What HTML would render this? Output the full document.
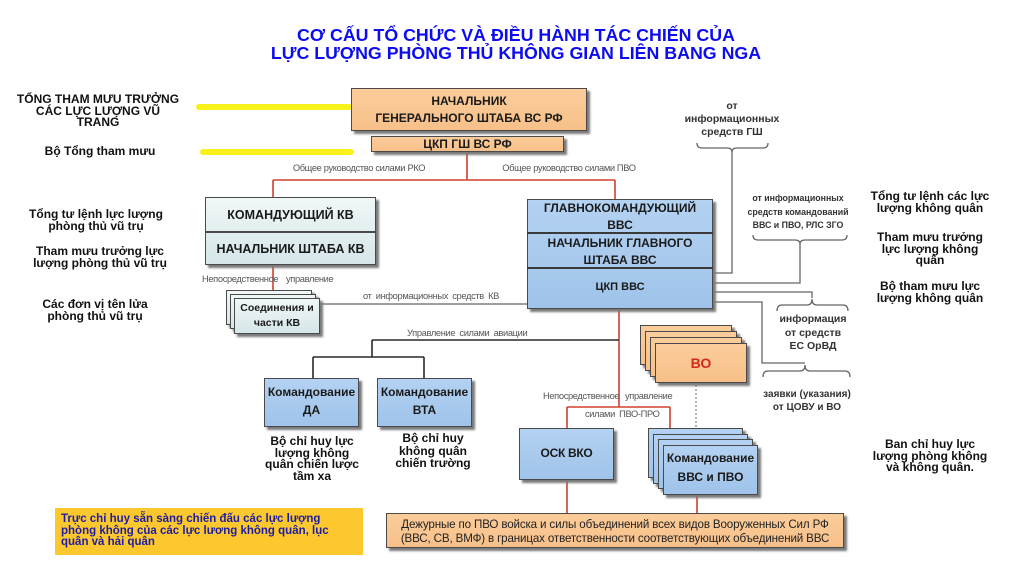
<!DOCTYPE html>
<html><head><meta charset="utf-8">
<style>
html,body{margin:0;padding:0;background:#fff;}
#c{position:relative;width:1010px;height:576px;overflow:hidden;background:#fff;font-family:"Liberation Sans","Noto Sans CJK SC",sans-serif;}
.t{position:absolute;white-space:nowrap;text-align:center;}
.vn{font-weight:bold;font-size:12px;line-height:11.7px;color:#111;}
.box{position:absolute;box-sizing:border-box;border:1.5px solid #4a4a4a;box-shadow:3px 3px 2px #7a7a7a;}
.peach{background:linear-gradient(#fbcd9a,#f7c08a);}
.blue{background:linear-gradient(#b4d2f2,#9fc3ea);}
.kv{background:linear-gradient(#f0f7f7,#d6e6e9);}
.bt{font-weight:bold;color:#1a1a1a;}
.sm{font-size:9.3px;color:#555;letter-spacing:-0.35px;}
.ru{font-weight:bold;color:#333;}
</style></head><body>
<div id="c">

<!-- Title -->
<div class="t" style="left:0;width:1032px;top:26px;font-size:17.8px;line-height:18px;font-weight:bold;color:#0c0cee;">CƠ CẤU TỔ CHỨC VÀ ĐIỀU HÀNH TÁC CHIẾN CỦA<br>LỰC LƯỢNG PHÒNG THỦ KHÔNG GIAN LIÊN BANG NGA</div>

<!-- yellow lines -->
<div style="position:absolute;left:196px;top:104px;width:156px;height:6px;background:#f8f21a;border-radius:3px;"></div>
<div style="position:absolute;left:200px;top:149px;width:154px;height:6px;background:#f8f21a;border-radius:3px;"></div>

<!-- left column -->
<div class="t vn" style="left:0;width:196px;top:94px;">TỔNG THAM MƯU TRƯỞNG<br>CÁC LỰC LƯỢNG VŨ<br>TRANG</div>
<div class="t vn" style="left:0;width:200px;top:146px;">Bộ Tổng tham mưu</div>
<div class="t vn" style="left:0;width:192px;top:209px;">Tổng tư lệnh lực lượng<br>phòng thủ vũ trụ</div>
<div class="t vn" style="left:0;width:200px;top:246px;">Tham mưu trưởng lực<br>lượng phòng thủ vũ trụ</div>
<div class="t vn" style="left:0;width:190px;top:299px;">Các đơn vị tên lửa<br>phòng thủ vũ trụ</div>

<!-- right column -->
<div class="t vn" style="left:850px;width:160px;top:191px;">Tổng tư lệnh các lực<br>lượng không quân</div>
<div class="t vn" style="left:850px;width:160px;top:232px;">Tham mưu trưởng<br>lực lượng không<br>quân</div>
<div class="t vn" style="left:850px;width:160px;top:281px;">Bộ tham mưu lực<br>lượng không quân</div>
<div class="t vn" style="left:850px;width:160px;top:439px;">Ban chỉ huy lực<br>lượng phòng không<br>và không quân.</div>

<!-- lines -->
<svg style="position:absolute;left:0;top:0;" width="1010" height="576">
<g stroke="#d0402e" stroke-width="1.6" fill="none">
<path d="M467,151 V180 M273,180 H615 M273,180 V197 M615,180 V199"/>
<path d="M273,265 V298"/>
<path d="M619,309 V407 M567,407 H670 M567,407 V428 M670,407 V428"/>
<path d="M567,480 V513 M697,495 V513"/>
</g>
<g stroke="#2a2a2a" stroke-width="1.6" fill="none">
<path d="M372,340 H619 M372,340 V357 M313,357 H424 M313,357 V378 M424,357 V378"/>
</g>
<g stroke="#666" stroke-width="1.3" fill="none">
<path d="M322,304 H527"/>
<path d="M713,273 H732 V152"/>
<path d="M697,143 q0,5 5,5 H727 q5,0 5,4 q0,-4 5,-4 H763 q5,0 5,-5"/>
<path d="M713,283 H800 V244"/>
<path d="M753,235 q0,5 5,5 H795 q5,0 5,4 q0,-4 5,-4 H842 q5,0 5,-5"/>
<path d="M713,292 H812 V298"/>
<path d="M777,311 q0,-6 5,-6 H807 q5,0 5,-6 q0,6 5,6 H843 q5,0 5,6"/>
<path d="M713,302 H762 V363 H805"/>
<path d="M763,377 q0,-6 5,-6 H800 q5,0 5,-6 q0,6 5,6 H845 q5,0 5,6"/>
</g>
<path d="M696,385 V428" stroke="#888" stroke-width="1.3" stroke-dasharray="2,2" fill="none"/>
</svg>

<!-- small labels -->
<div class="t sm" style="left:290px;width:138px;top:163px;">Общее руководство силами РКО</div>
<div class="t sm" style="left:500px;width:138px;top:163px;">Общее руководство силами ПВО</div>
<div class="t sm" style="left:202px;top:274px;text-align:left;">Непосредственное</div>
<div class="t sm" style="left:286px;top:274px;text-align:left;">управление</div>
<div class="t sm" style="left:363px;top:291px;text-align:left;word-spacing:2px;">от информационных средств КВ</div>
<div class="t sm" style="left:407px;top:328px;text-align:left;word-spacing:2px;">Управление силами авиации</div>
<div class="t sm" style="left:543px;top:391px;text-align:left;">Непосредственное</div>
<div class="t sm" style="left:625px;top:391px;text-align:left;">управление</div>
<div class="t sm" style="left:585px;top:409px;text-align:left;word-spacing:2px;">силами ПВО-ПРО</div>

<!-- right russian labels -->
<div class="t ru" style="left:672px;width:120px;top:100px;font-size:10.5px;line-height:13px;">от<br>информационных<br>средств ГШ</div>
<div class="t ru" style="left:738px;width:120px;top:192px;font-size:8.8px;line-height:13.5px;">от информационных<br>средств командований<br>ВВС и ПВО, РЛС ЗГО</div>
<div class="t ru" style="left:763px;width:100px;top:313px;font-size:10.5px;line-height:13.5px;">информация<br>от средств<br>ЕС ОрВД</div>
<div class="t ru" style="left:747px;width:120px;top:388px;font-size:10px;line-height:13px;">заявки (указания)<br>от ЦОВУ и ВО</div>

<!-- НГШ -->
<div class="box peach" style="left:351px;top:88px;width:236px;height:43px;"></div>
<div class="t bt" style="left:351px;width:236px;top:93px;font-size:12px;line-height:17px;">НАЧАЛЬНИК<br>ГЕНЕРАЛЬНОГО ШТАБА ВС РФ</div>
<div class="box peach" style="left:371px;top:136px;width:193px;height:16px;"></div>
<div class="t bt" style="left:371px;width:193px;top:137px;font-size:12px;line-height:14px;">ЦКП ГШ ВС РФ</div>

<!-- KV -->
<div class="box kv" style="left:205px;top:197px;width:171px;height:68px;"></div>
<div style="position:absolute;left:205px;top:231px;width:171px;height:1.5px;background:#4a4a4a;"></div>
<div class="t bt" style="left:205px;width:171px;top:207px;font-size:12.5px;line-height:16px;">КОМАНДУЮЩИЙ КВ</div>
<div class="t bt" style="left:205px;width:171px;top:241px;font-size:12.5px;line-height:16px;">НАЧАЛЬНИК ШТАБА КВ</div>

<!-- Soedineniya -->
<div class="box kv" style="left:226px;top:290px;width:86px;height:35px;"></div>
<div class="box kv" style="left:230px;top:294px;width:86px;height:35px;"></div>
<div class="box kv" style="left:234px;top:298px;width:86px;height:36px;"></div>
<div class="t bt" style="left:234px;width:86px;top:301px;font-size:10.5px;line-height:15px;">Соединения и<br>части КВ</div>

<!-- ВВС -->
<div class="box blue" style="left:527px;top:199px;width:186px;height:110px;"></div>
<div style="position:absolute;left:527px;top:232px;width:186px;height:1.5px;background:#3a3a3a;"></div>
<div style="position:absolute;left:527px;top:267px;width:186px;height:1.5px;background:#3a3a3a;"></div>
<div class="t bt" style="left:527px;width:186px;top:200px;font-size:12px;line-height:16.5px;">ГЛАВНОКОМАНДУЮЩИЙ<br>ВВС</div>
<div class="t bt" style="left:527px;width:186px;top:235px;font-size:12px;line-height:17px;">НАЧАЛЬНИК ГЛАВНОГО<br>ШТАБА ВВС</div>
<div class="t bt" style="left:527px;width:186px;top:280px;font-size:11px;line-height:14px;">ЦКП ВВС</div>

<!-- DA / BTA -->
<div class="box blue" style="left:264px;top:378px;width:95px;height:49px;"></div>
<div class="t bt" style="left:264px;width:95px;top:383px;font-size:12px;line-height:18px;">Командование<br>ДА</div>
<div class="box blue" style="left:377px;top:378px;width:95px;height:49px;"></div>
<div class="t bt" style="left:377px;width:95px;top:383px;font-size:12px;line-height:18px;">Командование<br>ВТА</div>
<div class="t vn" style="left:232px;width:160px;top:436px;">Bộ chỉ huy lực<br>lượng không<br>quân chiến lược<br>tầm xa</div>
<div class="t vn" style="left:353px;width:160px;top:432px;line-height:12.5px;">Bộ chỉ huy<br>không quân<br>chiến trường</div>

<!-- ВО -->
<div class="box peach" style="left:640px;top:325px;width:92px;height:40px;"></div>
<div class="box peach" style="left:645px;top:331px;width:92px;height:40px;"></div>
<div class="box peach" style="left:650px;top:337px;width:92px;height:40px;"></div>
<div class="box peach" style="left:655px;top:343px;width:92px;height:40px;"></div>
<div class="t" style="left:655px;width:92px;top:354px;font-size:14px;line-height:18px;font-weight:bold;color:#d42a1c;">ВО</div>

<!-- ОСК ВКО -->
<div class="box blue" style="left:519px;top:428px;width:95px;height:52px;"></div>
<div class="t bt" style="left:519px;width:95px;top:445px;font-size:12px;line-height:16px;letter-spacing:-0.3px;">ОСК ВКО</div>

<!-- Командование ВВС и ПВО -->
<div class="box blue" style="left:648px;top:428px;width:95px;height:50px;"></div>
<div class="box blue" style="left:653px;top:434px;width:95px;height:50px;"></div>
<div class="box blue" style="left:658px;top:439px;width:95px;height:50px;"></div>
<div class="box blue" style="left:663px;top:445px;width:95px;height:50px;"></div>
<div class="t bt" style="left:663px;width:95px;top:449px;font-size:12px;line-height:19px;">Командование<br>ВВС и ПВО</div>

<!-- bottom box -->
<div class="box peach" style="left:386px;top:513px;width:458px;height:35px;"></div>
<div class="t" style="left:386px;width:458px;top:518px;font-size:11.6px;line-height:14px;color:#222;letter-spacing:-0.15px;">Дежурные по ПВО войска и силы объединений всех видов Вооруженных Сил РФ<br>(ВВС, СВ, ВМФ) в границах ответственности соответствующих объединений ВВС</div>

<!-- yellow box -->
<div style="position:absolute;left:55px;top:508px;width:308px;height:47px;background:#fcc82e;"></div>
<div class="t" style="left:61px;top:514px;text-align:left;font-size:11.5px;line-height:11.7px;font-weight:bold;color:#1c1ca4;">Trực chỉ huy sẵn sàng chiến đấu các lực lượng<br>phòng không của các lực lương không quân, lục<br>quân và hải quân</div>

</div>
</body></html>
